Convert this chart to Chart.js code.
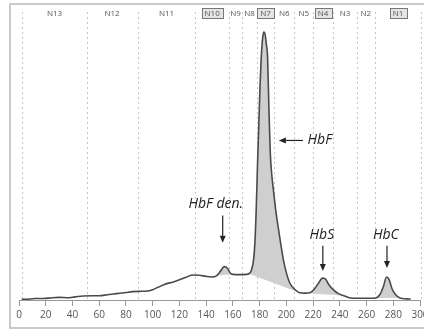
<!DOCTYPE html>
<html>
<head>
<meta charset="utf-8">
<script src="https://cdn.jsdelivr.net/npm/chart.js@4.4.1/dist/chart.umd.min.js"></script>
<style>
  html, body { margin: 0; padding: 0; background: #fff; overflow: hidden; }
  #wrap { position: relative; width: 424px; height: 330px; overflow: hidden; }
  #frame { position: absolute; left: 9px; top: 3px; width: 440px; height: 322px; border: 2px solid #cacaca; }
  canvas { position: absolute; left: 0; top: 0; }
</style>
</head>
<body>
<div id="wrap">
  <div id="frame"></div>
  <canvas id="chart" width="440" height="330"></canvas>
</div>
<script>
// elution time and detector signal
const times = [2, 5, 12, 18, 25, 30, 36, 42, 48, 55, 60, 66, 73, 80, 85, 90, 96, 100, 104, 110,
  115, 120, 125, 130, 135, 140, 144, 148, 151, 153.5, 156, 158, 160, 165, 170, 172, 174, 175.5,
  176.5, 177.5, 178.5, 179.5, 180.3, 181.2, 182.2, 183.1, 184, 185, 186, 187, 188, 189, 190.5,
  192, 194, 196, 198, 200, 202.5, 206, 210, 214, 218, 221, 224, 227, 229, 232, 235, 239, 243, 248,
  255, 262, 267, 270, 272.5, 275, 277, 279, 281.5, 285, 290, 293];
const signal = [0.2, 0.2, 0.5, 0.5, 0.8, 0.9, 0.8, 1.1, 1.4, 1.5, 1.5, 1.8, 2.2, 2.6, 2.9, 3.0, 3.1, 3.6, 4.4, 5.6,
  6.2, 7.0, 7.9, 8.7, 8.6, 8.2, 8.0, 8.5, 10.2, 11.6, 11.0, 9.4, 8.9, 8.8, 8.9, 9.1, 10.5, 14,
  20, 32, 48, 62, 74, 84, 90.5, 93, 92.5, 89, 84, 66, 51, 44, 37.5,
  31.5, 25, 19, 13.5, 9.5, 6, 3.8, 2.5, 2.4, 2.6, 3.8, 5.8, 7.6, 7.4, 5.2, 3.6, 2.2, 1.5, 0.7,
  0.6, 0.6, 0.7, 1.9, 4.5, 8.0, 7.0, 4, 2.0, 0.7, 0.4, 0.3];

// integration windows along the top
const windowEdges = [2.6, 50.5, 88.8, 132, 157, 167, 178, 191, 206, 220, 235, 253, 266, 301];
const windowLabels = ['N13', 'N12', 'N11', 'N10', 'N9', 'N8', 'N7', 'N6', 'N5', 'N4', 'N3', 'N2', 'N1'];
const boxedWindows = ['N10', 'N7', 'N4', 'N1'];

// shaded peaks
const peakNames = ['HbF den.', 'HbF', 'HbS', 'HbC'];
const peakStart = [148, 172, 214, 267];
const peakEnd = [160, 210, 243, 285];

const curve = times.map((t, i) => ({x: t, y: signal[i]}));

const shadeSets = peakNames.map((name, i) => ({
  label: name,
  data: curve.filter(p => p.x >= peakStart[i] && p.x <= peakEnd[i]),
  borderWidth: 0,
  borderColor: 'rgba(0,0,0,0)',
  backgroundColor: '#cfcfcf',
  fill: 'shape',
  pointRadius: 0,
  cubicInterpolationMode: 'monotone',
  order: 2
}));

// window lines (dotted) and their labels
const windowPlugin = {
  id: 'windows',
  beforeDatasetsDraw(chart) {
    const {ctx, chartArea, scales: {x}} = chart;
    ctx.save();
    ctx.strokeStyle = '#c4c4c4';
    ctx.lineWidth = 1;
    ctx.setLineDash([2, 3]);
    windowEdges.forEach(v => {
      const px = Math.round(x.getPixelForValue(v)) + 0.5;
      ctx.beginPath();
      ctx.moveTo(px, chartArea.top);
      ctx.lineTo(px, chartArea.bottom);
      ctx.stroke();
    });
    ctx.restore();
  },
  afterDraw(chart) {
    const {ctx, scales: {x}} = chart;
    ctx.save();
    ctx.font = '8px "Open Sans"';
    ctx.textAlign = 'center';
    ctx.textBaseline = 'middle';
    windowLabels.forEach((lab, i) => {
      const cx = (x.getPixelForValue(windowEdges[i]) + x.getPixelForValue(windowEdges[i + 1])) / 2;
      const cy = 14;
      if (boxedWindows.includes(lab)) {
        const w = ctx.measureText(lab).width + 6;
        ctx.fillStyle = '#e4e4e4';
        ctx.fillRect(Math.round(cx - w / 2) + 0.5, cy - 5.5, Math.round(w), 10);
        ctx.strokeStyle = '#777';
        ctx.lineWidth = 1;
        ctx.strokeRect(Math.round(cx - w / 2) + 0.5, cy - 5.5, Math.round(w), 10);
      }
      ctx.fillStyle = '#555';
      ctx.fillText(lab, cx, cy);
    });
    ctx.restore();
  }
};

// peak names with arrows
const notes = [
  {text: 'HbF den.', tx: 147.2, ty: 33.4, from: [152.4, 29.3], to: [152.4, 19.9]},
  {text: 'HbF', tx: 225, ty: 55.4, from: [212.4, 55.4], to: [194.4, 55.4]},
  {text: 'HbS', tx: 226.6, ty: 22.6, from: [227.3, 18.8], to: [227.3, 10.1]},
  {text: 'HbC', tx: 274.5, ty: 22.6, from: [275.3, 18.8], to: [275.3, 11.1]}
];

const notePlugin = {
  id: 'notes',
  afterDatasetsDraw(chart) {
    const {ctx, scales: {x, y}} = chart;
    ctx.save();
    ctx.fillStyle = '#222';
    ctx.strokeStyle = '#222';
    ctx.lineWidth = 1.2;
    ctx.font = 'italic 14px "Open Sans"';
    ctx.textAlign = 'center';
    ctx.textBaseline = 'middle';
    notes.forEach(n => {
      ctx.fillText(n.text, x.getPixelForValue(n.tx), y.getPixelForValue(n.ty));
      const x1 = x.getPixelForValue(n.from[0]), y1 = y.getPixelForValue(n.from[1]);
      const x2 = x.getPixelForValue(n.to[0]), y2 = y.getPixelForValue(n.to[1]);
      const ang = Math.atan2(y2 - y1, x2 - x1);
      const hl = 7, hw = 3;
      ctx.beginPath();
      ctx.moveTo(x1, y1);
      ctx.lineTo(x2 - Math.cos(ang) * hl, y2 - Math.sin(ang) * hl);
      ctx.stroke();
      ctx.beginPath();
      ctx.moveTo(x2, y2);
      ctx.lineTo(x2 - Math.cos(ang) * hl - Math.sin(ang) * hw, y2 - Math.sin(ang) * hl + Math.cos(ang) * hw);
      ctx.lineTo(x2 - Math.cos(ang) * hl + Math.sin(ang) * hw, y2 - Math.sin(ang) * hl - Math.cos(ang) * hw);
      ctx.closePath();
      ctx.fill();
    });
    ctx.restore();
  }
};

const ctx = document.getElementById('chart').getContext('2d');
const chart = new Chart(ctx, {
  type: 'line',
  data: {
    datasets: [{
      label: 'trace',
      data: curve,
      borderColor: '#4a4a4a',
      borderWidth: 1.6,
      pointRadius: 0,
      fill: false,
      cubicInterpolationMode: 'monotone',
      order: 1
    }, ...shadeSets]
  },
  options: {
    responsive: false,
    animation: false,
    layout: {padding: {left: 19, right: 20, top: 12, bottom: 6}},
    plugins: {legend: {display: false}, tooltip: {enabled: false}},
    scales: {
      x: {
        type: 'linear',
        min: 0,
        max: 300,
        grid: {drawOnChartArea: false, drawTicks: true, tickLength: 6, color: '#999'},
        border: {display: true, color: '#999', width: 1},
        ticks: {stepSize: 20, padding: 3, color: '#555', font: {family: 'Open Sans', size: 10}, maxRotation: 0}
      },
      y: {
        display: false,
        min: 0,
        max: 100
      }
    }
  },
  plugins: [windowPlugin, notePlugin]
});
</script>
</body>
</html>
